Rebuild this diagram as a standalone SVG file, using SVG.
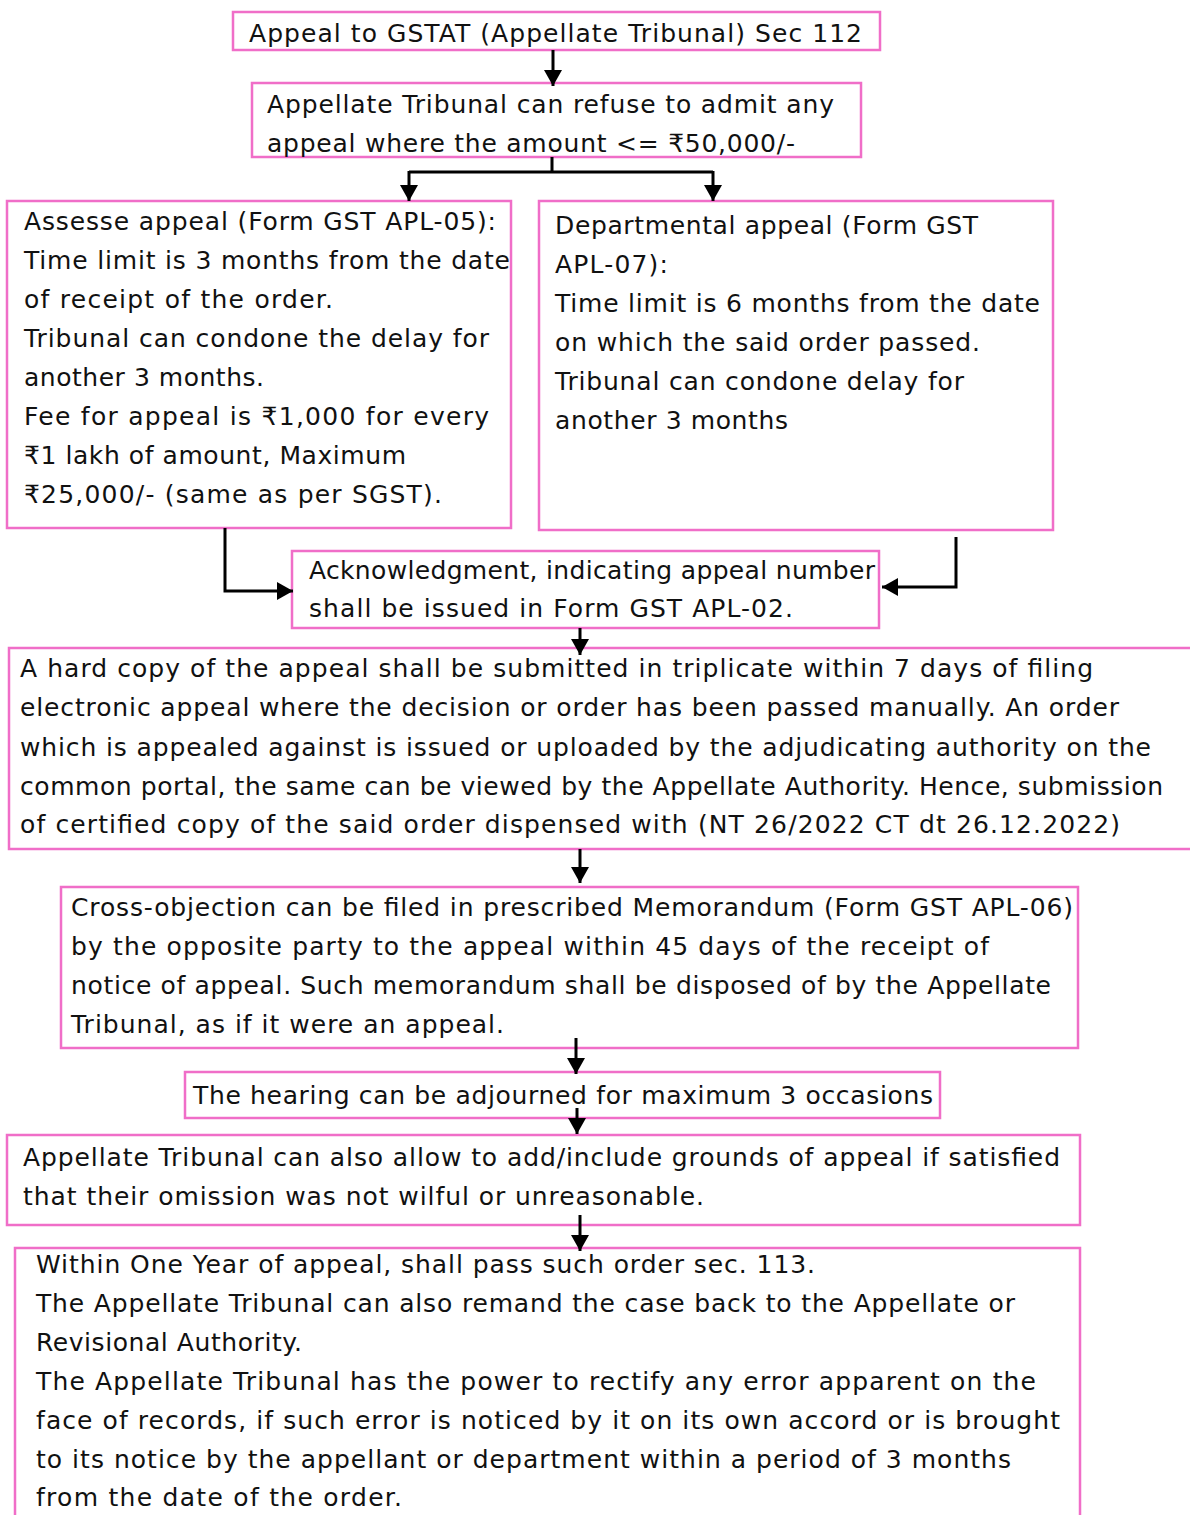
<svg xmlns="http://www.w3.org/2000/svg" width="1190" height="1515" viewBox="0 0 1190 1515">
<style>
.box{fill:#fff;stroke:#f06ec8;stroke-width:2.5}
text{font-family:"DejaVu Sans","Noto Sans",sans-serif;font-size:25px;fill:#111}
.c{fill:none;stroke:#000;stroke-width:3}
</style>
<defs>
<marker id="ah" markerUnits="userSpaceOnUse" markerWidth="18" markerHeight="18" viewBox="0 0 18 18" refX="16" refY="9" orient="auto">
<path d="M0,0 L16,9 L0,18 Z" fill="#000"/>
</marker>
</defs>
<rect width="1190" height="1515" fill="#fff"/>
<g id="n1"><rect class="box" x="233" y="12" width="647" height="38"/>
<text x="249" y="42" textLength="613">Appeal to GSTAT (Appellate Tribunal) Sec 112</text></g>
<g id="n2"><rect class="box" x="252" y="83" width="609" height="74"/>
<text x="267" y="113" textLength="567">Appellate Tribunal can refuse to admit any</text>
<text x="267" y="152" textLength="528">appeal where the amount &lt;= ₹50,000/-</text></g>
<g id="n3"><rect class="box" x="7" y="201" width="504" height="327"/>
<text x="24" y="230" textLength="472">Assesse appeal (Form GST APL-05):</text>
<text x="24" y="269" textLength="486">Time limit is 3 months from the date</text>
<text x="24" y="308" textLength="309">of receipt of the order.</text>
<text x="24" y="347" textLength="465">Tribunal can condone the delay for</text>
<text x="24" y="386" textLength="240">another 3 months.</text>
<text x="24" y="425" textLength="465">Fee for appeal is ₹1,000 for every</text>
<text x="24" y="464" textLength="382">₹1 lakh of amount, Maximum</text>
<text x="24" y="503" textLength="418">₹25,000/- (same as per SGST).</text></g>
<g id="n4"><rect class="box" x="539" y="201" width="514" height="329"/>
<text x="555" y="234" textLength="423">Departmental appeal (Form GST</text>
<text x="555" y="273" textLength="113">APL-07):</text>
<text x="555" y="312" textLength="485">Time limit is 6 months from the date</text>
<text x="555" y="351" textLength="425">on which the said order passed.</text>
<text x="555" y="390" textLength="409">Tribunal can condone delay for</text>
<text x="555" y="429" textLength="233">another 3 months</text></g>
<g id="n5"><rect class="box" x="292" y="551" width="587" height="77"/>
<text x="309" y="579" textLength="566">Acknowledgment, indicating appeal number</text>
<text x="309" y="617" textLength="484">shall be issued in Form GST APL-02.</text></g>
<g id="n6"><rect class="box" x="9" y="648" width="1190" height="201"/>
<text x="20" y="677" textLength="1073">A hard copy of the appeal shall be submitted in triplicate within 7 days of filing</text>
<text x="20" y="716" textLength="1099">electronic appeal where the decision or order has been passed manually. An order</text>
<text x="20" y="756" textLength="1131">which is appealed against is issued or uploaded by the adjudicating authority on the</text>
<text x="20" y="795" textLength="1143">common portal, the same can be viewed by the Appellate Authority. Hence, submission</text>
<text x="20" y="833" textLength="1100">of certified copy of the said order dispensed with (NT 26/2022 CT dt 26.12.2022)</text></g>
<g id="n7"><rect class="box" x="61" y="887" width="1017" height="161"/>
<text x="71" y="916" textLength="1002">Cross-objection can be filed in prescribed Memorandum (Form GST APL-06)</text>
<text x="71" y="955" textLength="918">by the opposite party to the appeal within 45 days of the receipt of</text>
<text x="71" y="994" textLength="980">notice of appeal. Such memorandum shall be disposed of by the Appellate</text>
<text x="71" y="1033" textLength="433">Tribunal, as if it were an appeal.</text></g>
<g id="n8"><rect class="box" x="185" y="1072" width="755" height="46"/>
<text x="193" y="1104" textLength="740">The hearing can be adjourned for maximum 3 occasions</text></g>
<g id="n9"><rect class="box" x="7" y="1135" width="1073" height="90"/>
<text x="23" y="1166" textLength="1037">Appellate Tribunal can also allow to add/include grounds of appeal if satisfied</text>
<text x="23" y="1205" textLength="681">that their omission was not wilful or unreasonable.</text></g>
<g id="n10"><rect class="box" x="15" y="1248" width="1065" height="280"/>
<text x="36" y="1273" textLength="779">Within One Year of appeal, shall pass such order sec. 113.</text>
<text x="36" y="1312" textLength="979">The Appellate Tribunal can also remand the case back to the Appellate or</text>
<text x="36" y="1351" textLength="266">Revisional Authority.</text>
<text x="36" y="1390" textLength="1000">The Appellate Tribunal has the power to rectify any error apparent on the</text>
<text x="36" y="1429" textLength="1024">face of records, if such error is noticed by it on its own accord or is brought</text>
<text x="36" y="1468" textLength="975">to its notice by the appellant or department within a period of 3 months</text>
<text x="36" y="1506" textLength="366">from the date of the order.</text></g>
<g id="connectors">
<path class="c" d="M553,50 V86" marker-end="url(#ah)"/>
<path class="c" d="M552,157 V172 M409,172 H713"/>
<path class="c" d="M409,171 V201" marker-end="url(#ah)"/>
<path class="c" d="M713,171 V201" marker-end="url(#ah)"/>
<path class="c" d="M225,528 V591 H293" marker-end="url(#ah)"/>
<path class="c" d="M956,537 V587 H882" marker-end="url(#ah)"/>
<path class="c" d="M580,628 V655" marker-end="url(#ah)"/>
<path class="c" d="M580,849 V883" marker-end="url(#ah)"/>
<path class="c" d="M576,1038 V1074" marker-end="url(#ah)"/>
<path class="c" d="M577,1108 V1134" marker-end="url(#ah)"/>
<path class="c" d="M580,1215 V1251" marker-end="url(#ah)"/>
</g>
</svg>
